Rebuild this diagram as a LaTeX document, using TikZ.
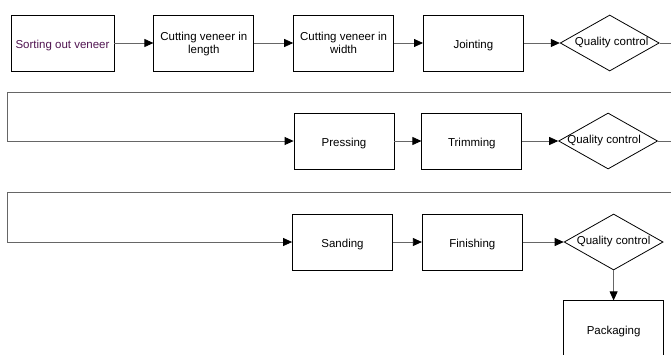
\documentclass[tikz,border=0pt]{standalone}
\usepackage{fontspec}
\setmainfont{Liberation Sans}
\usepackage{xcolor}
\usetikzlibrary{shapes.geometric,arrows.meta,positioning}
\definecolor{sortcol}{RGB}{80,20,80}

\begin{document}
\begin{tikzpicture}[x=1pt, y=-1pt, node distance=39pt,
    font=\fontsize{11.5}{13}\selectfont,
    stage/.style={rectangle, draw, line width=0.8pt, minimum width=100pt, minimum height=56pt, align=center, text height=12.5pt, text depth=2.5pt},
    twoline/.style={text height=24pt},
    check/.style={diamond, draw, line width=0.8pt, minimum width=99pt, minimum height=56pt, inner sep=0pt},
    arrow/.style={-{Triangle[length=9pt,width=8pt,color=black]}, draw=black!60, line width=0.8pt},
    link/.style={draw=black!60, line width=0.8pt}]

    \clip (0,0) rectangle (671,354);

    \node[stage, minimum width=103pt, text=sortcol] (sort) at (62.5,43) {Sorting out veneer};
    \node[stage, twoline, right=of sort] (cutlen) {Cutting veneer in\\length};
    \node[stage, twoline, right=of cutlen] (cutwid) {Cutting veneer in\\width};
    \node[stage, right=29pt of cutwid] (joint) {Jointing};
    \node[check, right=36pt of joint] (qc1) {\makebox[0pt]{\hspace{4pt}Quality control}};

    \node[stage] (press) at (344,141) {Pressing};
    \node[stage, right=27pt of press] (trim) {Trimming};
    \node[check, right=36pt of trim] (qc2) {\makebox[0pt]{Quality control\hspace{8pt}}};

    \node[stage] (sand) at (342.5,242) {Sanding};
    \node[stage, right=29pt of sand] (fin) {Finishing};
    \node[check, right=41pt of fin] (qc3) {\raisebox{3pt}{\makebox[0pt]{Quality control}}};
    \node[stage, below=30pt of qc3, minimum height=57pt] (pack) {Packaging};

    \coordinate (back1) at (7,92);
    \coordinate (back2) at (7,192);

    \draw[arrow] (sort) -- (cutlen);
    \draw[arrow] (cutlen) -- (cutwid);
    \draw[arrow] (cutwid) -- (joint);
    \draw[arrow] (joint) -- (qc1);
    \draw[link] (qc1.east) -- ++(30,0) |- (back1);
    \draw[arrow] (back1) |- (press);

    \draw[arrow] (press) -- (trim);
    \draw[arrow] (trim) -- (qc2);
    \draw[link] (qc2.east) -- ++(30,0) |- (back2);
    \draw[arrow] (back2) |- (sand);

    \draw[arrow] (sand) -- (fin);
    \draw[arrow] (fin) -- (qc3);
    \draw[arrow] (qc3) -- (pack);
\end{tikzpicture}
\end{document}
